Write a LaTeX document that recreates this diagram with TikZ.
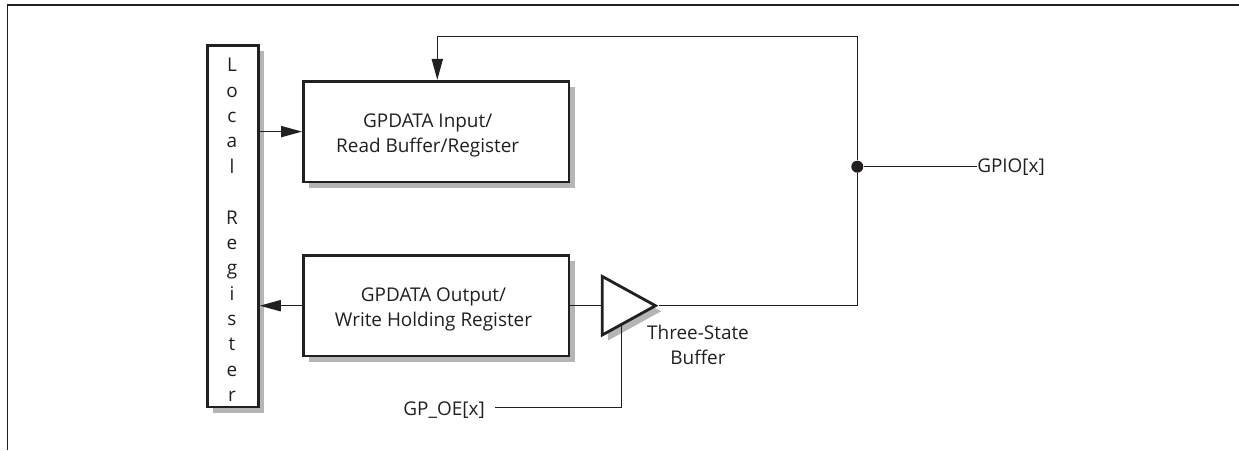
\documentclass[tikz,border=0pt]{standalone}
\usepackage{fontspec}
\setmainfont{Open Sans}
\usetikzlibrary{arrows.meta,shadows,shapes.geometric}
\definecolor{ink}{HTML}{231F20}
\definecolor{shadegrey}{HTML}{B4B5B7}
\tikzset{
  x=0.75pt,y=-0.75pt,
  textstyle/.style={font=\fontsize{14.2}{18.75}\selectfont,text=ink,align=center},
  greyshadow/.style={general shadow={shadow xshift=4.2pt,shadow yshift=-4.2pt,fill=shadegrey,opacity=1}},
  boxnode/.style={draw=ink,line width=2.1pt,fill=white,inner sep=0pt,greyshadow},
  wire/.style={draw=ink,line width=0.9pt},
  arrowed/.style={wire,-{Triangle[length=15.75pt,width=8.4pt,fill=ink]}},
  lbl/.style={inner sep=0pt,textstyle},
  stacklbl/.style={inner sep=0pt,align=center,text=ink,font=\fontsize{14.2}{19.04}\selectfont},
  framerule/.style={draw=ink,line width=1pt},
}
\begin{document}
\begin{tikzpicture}
\useasboundingbox (0,0) rectangle (1239,450);
% frame
\coordinate (fbl) at (7.5,450);
\coordinate (ftl) at (7.5,5);
\coordinate (ftr) at (1239,5);
\draw[framerule] (fbl) -- (ftl) -- (ftr);
% blocks
\node[boxnode,minimum width=37.9pt,minimum height=271.2pt] (lr) at (233.1,226.2) {};
\node[boxnode,minimum width=199.1pt,minimum height=75.5pt] (inb) at (436.2,131.6) {};
\node[boxnode,minimum width=199.1pt,minimum height=75.5pt] (outb) at (436.2,305.7) {};
\node[boxnode,isosceles triangle,isosceles triangle stretches,shape border rotate=0,
  minimum width=44pt,minimum height=40pt] (tri) at (619.5,305.7) {};
\node[circle,fill=ink,inner sep=0pt,minimum size=9pt] (dot) at (857.3,166.7) {};
% labels
\node[stacklbl] (lrtext) at (232,229.95)
  {L\\o\\c\\a\\l\\~\\R\\e\\g\\i\\s\\t\\e\\r};
\node[lbl] (intext) at (427.7,135.25) {GPDATA Input/\\Read Buffer/Register};
\node[lbl] (outtext) at (433.5,309) {GPDATA Output/\\Write Holding Register};
\node[lbl,anchor=base west] (gpio) at (977,172.7) {GPIO[x]};
\node[lbl,anchor=base east] (oe) at (485,415.5) {GP\_OE[x]};
\node[lbl] (tsb) at (698,345.3) {Three-State\\Buffer};
% connector end points
\coordinate (turn) at (437.3,36.7);
\coordinate (oecorner) at (621.7,407.3);
\coordinate (oeend) at (621.7,325);
% connectors
\draw[arrowed] (lr.east |- inb.west) -- (inb.west);
\draw[arrowed] (outb.west) -- (lr.east |- outb.west);
\draw[wire] (outb.east) -- (tri.west);
\draw[wire] (tri.apex) -| (dot.south);
\draw[wire] (dot.north) |- (turn);
\draw[arrowed] (turn) -- (turn |- inb.north);
\draw[wire] (dot.east) -- (gpio.west |- dot.east);
\draw[wire,shorten <=7.5pt] (oe.east |- oecorner) -- (oecorner) -- (oeend);
\end{tikzpicture}
\end{document}
